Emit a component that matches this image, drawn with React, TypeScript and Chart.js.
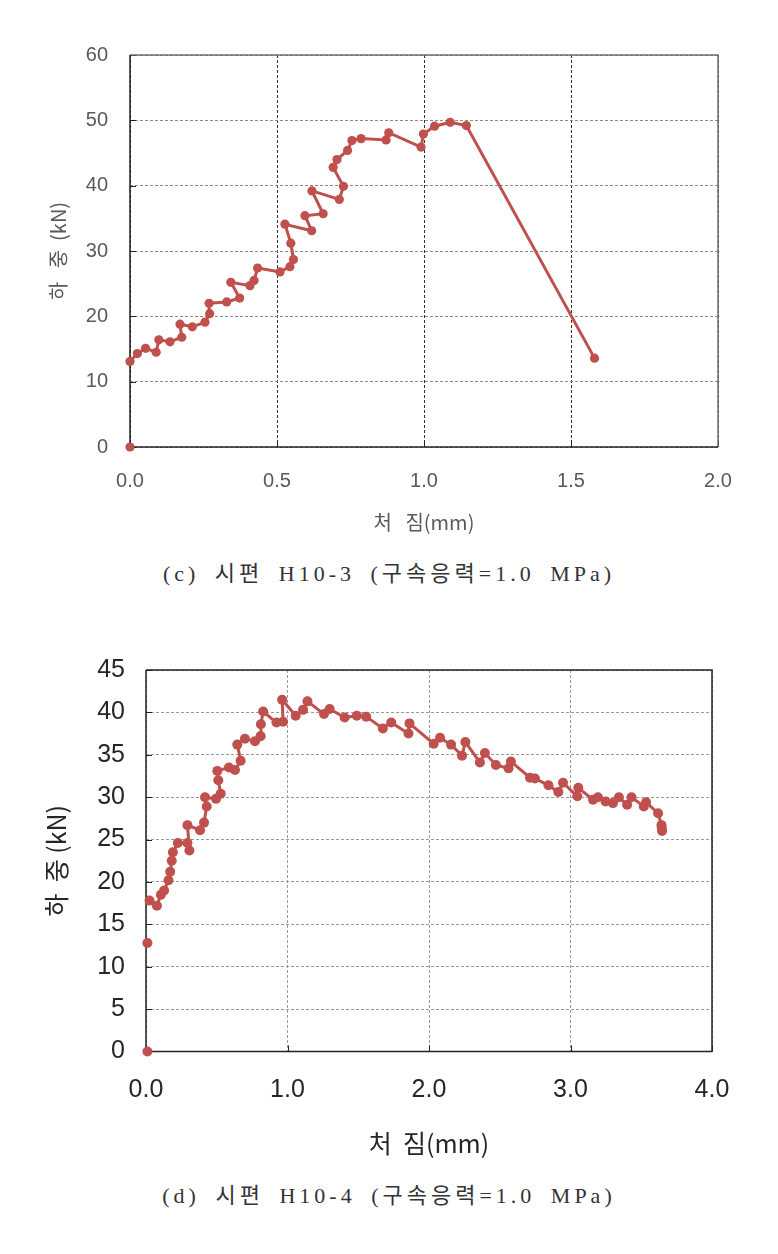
import React, { useEffect, useRef } from 'react';
import { Chart, registerables } from 'chart.js';

Chart.register(...registerables);

const RED = '#C0504D';

// ---------- (c) 시편 H10-3 ----------
const cStartX = [0];
const cStartY = [0];
const cX = [0.0, 0.025, 0.053, 0.089, 0.098, 0.136, 0.176, 0.170, 0.212, 0.255, 0.271, 0.269, 0.329, 0.373, 0.343, 0.408, 0.422, 0.434, 0.510, 0.544, 0.556, 0.547, 0.527, 0.618, 0.595, 0.657, 0.619, 0.712, 0.726, 0.691, 0.704, 0.740, 0.755, 0.786, 0.871, 0.880, 0.990, 0.998, 1.036, 1.089, 1.144, 1.58];
const cY = [13.1, 14.3, 15.1, 14.5, 16.4, 16.1, 16.8, 18.8, 18.4, 19.1, 20.4, 22.0, 22.2, 22.8, 25.2, 24.7, 25.5, 27.4, 26.8, 27.6, 28.7, 31.2, 34.1, 33.1, 35.4, 35.7, 39.2, 37.9, 39.9, 42.8, 44.0, 45.4, 46.9, 47.2, 47.0, 48.1, 45.9, 47.9, 49.1, 49.7, 49.2, 13.6];
const cXTicks = [0, 0.5, 1.0, 1.5, 2.0];
const cYTicks = [0, 10, 20, 30, 40, 50, 60];

// ---------- (d) 시편 H10-4 ----------
const dStartX = [0.01, 0.01];
const dStartY = [0, 12.8];
const dX = [0.025, 0.077, 0.105, 0.128, 0.159, 0.171, 0.182, 0.19, 0.225, 0.293, 0.307, 0.293, 0.382, 0.41, 0.429, 0.417, 0.495, 0.528, 0.511, 0.504, 0.586, 0.629, 0.669, 0.645, 0.699, 0.77, 0.81, 0.812, 0.828, 0.922, 0.969, 0.962, 1.058, 1.11, 1.141, 1.258, 1.298, 1.404, 1.49, 1.556, 1.674, 1.733, 1.855, 1.862, 2.033, 2.078, 2.156, 2.233, 2.257, 2.36, 2.395, 2.473, 2.562, 2.579, 2.714, 2.749, 2.844, 2.914, 2.947, 3.048, 3.055, 3.159, 3.194, 3.248, 3.3, 3.342, 3.4, 3.431, 3.518, 3.534, 3.619, 3.643, 3.645, 3.647];
const dY = [17.8, 17.2, 18.5, 19.0, 20.2, 21.2, 22.5, 23.5, 24.6, 24.6, 23.7, 26.7, 26.1, 27.0, 28.9, 30.0, 29.8, 30.4, 32.0, 33.1, 33.5, 33.2, 34.3, 36.2, 36.9, 36.6, 37.2, 38.6, 40.1, 38.8, 38.9, 41.5, 39.6, 40.3, 41.3, 39.8, 40.4, 39.4, 39.6, 39.5, 38.1, 38.8, 37.5, 38.7, 36.3, 37.0, 36.2, 34.9, 36.5, 34.1, 35.2, 33.8, 33.4, 34.2, 32.3, 32.2, 31.4, 30.6, 31.7, 30.1, 31.1, 29.7, 30.0, 29.5, 29.3, 30.0, 29.1, 30.0, 28.9, 29.4, 28.1, 26.7, 26.4, 26.0];
const dXTicks = [0, 1, 2, 3, 4];
const dYTicks = [0, 5, 10, 15, 20, 25, 30, 35, 40, 45];

const Y_TITLE_C = '하   중  (kN)';
const X_TITLE_C = '처   짐(mm)';
const Y_TITLE_D = '하  중 (kN)';
const X_TITLE_D = '처  짐(mm)';
const CAPTION_C = '(c) 시편 H10-3 (구속응력=1.0 MPa)';
const CAPTION_D = '(d) 시편 H10-4 (구속응력=1.0 MPa)';

const NUM_FONT = '"Liberation Sans Narrow", "Liberation Sans", Arial, sans-serif';
const KR_FONT = '"Noto Sans CJK KR", "Noto Sans", sans-serif';

type Cfg = {
  top: number;
  height: number;
  xs: number[];
  ys: number[];
  sx: number[];
  sy: number[];
  xTicks: number[];
  yTicks: number[];
  xTitle: string;
  yTitle: string;
  padTop: number;
  padRight: number;
  yWidth: number;
  xHeight: number;
  tickSize: number;
  titleSize: number;
  textColor: string;
  xTickPad: number;
  yTickPad: number;
  yTitlePad: number;
  xTitlePad: number;
  xGridColor: string;
  yGridColor: string;
  leftBottomColor: string;
  topRightColor: string;
  pointRadius: number;
  lineWidth: number;
};

function LoadChart({ cfg }: { cfg: Cfg }) {
  const ref = useRef<HTMLCanvasElement | null>(null);
  useEffect(() => {
    if (!ref.current) return;
    const frame = {
      id: 'frameTicks',
      beforeDatasetsDraw(chart: any) {
        const { ctx, chartArea: a, scales } = chart;
        ctx.save();
        ctx.setLineDash([]);
        ctx.lineWidth = 1;
        ctx.strokeStyle = cfg.leftBottomColor;
        scales.x.ticks.forEach((t: any) => {
          const px = Math.round(scales.x.getPixelForValue(t.value)) + 0.5;
          ctx.beginPath();
          ctx.moveTo(px, a.bottom);
          ctx.lineTo(px, a.bottom - 6);
          ctx.stroke();
        });
        scales.y.ticks.forEach((t: any) => {
          const py = Math.round(scales.y.getPixelForValue(t.value)) + 0.5;
          ctx.beginPath();
          ctx.moveTo(a.left, py);
          ctx.lineTo(a.left + 6, py);
          ctx.stroke();
        });
        ctx.lineWidth = 1.5;
        ctx.strokeStyle = cfg.topRightColor;
        ctx.beginPath();
        ctx.moveTo(a.left, a.top);
        ctx.lineTo(a.right, a.top);
        ctx.lineTo(a.right, a.bottom);
        ctx.stroke();
        ctx.strokeStyle = cfg.leftBottomColor;
        ctx.beginPath();
        ctx.moveTo(a.left, a.top);
        ctx.lineTo(a.left, a.bottom);
        ctx.lineTo(a.right, a.bottom);
        ctx.stroke();
        ctx.restore();
      },
    };
    const chart = new Chart(ref.current, {
      type: 'scatter',
      data: {
        datasets: [
          {
            data: cfg.xs.map((x, i) => ({ x, y: cfg.ys[i] })),
            showLine: true,
            borderColor: RED,
            backgroundColor: RED,
            borderWidth: cfg.lineWidth,
            pointRadius: cfg.pointRadius,
            pointBorderWidth: 0,
            pointBackgroundColor: RED,
            tension: 0,
            clip: false,
          } as any,
          {
            data: cfg.sx.map((x, i) => ({ x, y: cfg.sy[i] })),
            showLine: false,
            borderColor: RED,
            backgroundColor: RED,
            pointRadius: cfg.pointRadius,
            pointBorderWidth: 0,
            pointBackgroundColor: RED,
            clip: false,
          } as any,
        ],
      },
      options: {
        animation: false,
        responsive: false,
        devicePixelRatio: 1,
        events: [],
        layout: { padding: { top: cfg.padTop, right: cfg.padRight, bottom: 0, left: 0 } },
        plugins: { legend: { display: false }, tooltip: { enabled: false } },
        scales: {
          x: {
            type: 'linear',
            min: cfg.xTicks[0],
            max: cfg.xTicks[cfg.xTicks.length - 1],
            afterBuildTicks: (s: any) => {
              s.ticks = cfg.xTicks.map((v) => ({ value: v }));
            },
            afterFit: (s: any) => {
              s.height = cfg.xHeight;
            },
            ticks: {
              autoSkip: false,
              maxRotation: 0,
              padding: cfg.xTickPad,
              color: cfg.textColor,
              font: { family: NUM_FONT, size: cfg.tickSize },
              callback: (v: any) => Number(v).toFixed(1),
            },
            grid: { color: cfg.xGridColor, lineWidth: 1, drawTicks: false },
            border: { display: false, dash: [3, 2] },
            title: {
              display: true,
              text: cfg.xTitle,
              color: cfg.textColor,
              font: { family: KR_FONT, size: cfg.titleSize },
              padding: { top: 0, bottom: cfg.xTitlePad },
            },
          },
          y: {
            type: 'linear',
            min: cfg.yTicks[0],
            max: cfg.yTicks[cfg.yTicks.length - 1],
            afterBuildTicks: (s: any) => {
              s.ticks = cfg.yTicks.map((v) => ({ value: v }));
            },
            afterFit: (s: any) => {
              s.width = cfg.yWidth;
            },
            ticks: {
              autoSkip: false,
              padding: cfg.yTickPad,
              color: cfg.textColor,
              font: { family: NUM_FONT, size: cfg.tickSize },
              callback: (v: any) => String(v),
            },
            grid: { color: cfg.yGridColor, lineWidth: 1, drawTicks: false },
            border: { display: false, dash: [3, 2] },
            title: {
              display: true,
              text: cfg.yTitle,
              color: cfg.textColor,
              font: { family: KR_FONT, size: cfg.titleSize },
              padding: { top: cfg.yTitlePad, bottom: 0 },
            },
          },
        },
      } as any,
      plugins: [frame],
    });
    return () => chart.destroy();
  }, [cfg]);
  return (
    <canvas
      ref={ref}
      width={778}
      height={cfg.height}
      style={{ position: 'absolute', left: 0, top: cfg.top, width: 778, height: cfg.height }}
    />
  );
}

const cfgC: Cfg = {
  top: 0,
  height: 560,
  xs: cX,
  ys: cY,
  sx: cStartX,
  sy: cStartY,
  xTicks: cXTicks,
  yTicks: cYTicks,
  xTitle: X_TITLE_C,
  yTitle: Y_TITLE_C,
  padTop: 55,
  padRight: 60,
  yWidth: 130,
  xHeight: 113,
  tickSize: 20,
  titleSize: 20,
  textColor: '#595959',
  xTickPad: 22,
  yTickPad: 22,
  yTitlePad: 46,
  xTitlePad: 26,
  xGridColor: '#333333',
  yGridColor: '#8a8a8a',
  leftBottomColor: '#222222',
  topRightColor: '#707070',
  pointRadius: 4.6,
  lineWidth: 3,
};

const cfgD: Cfg = {
  top: 620,
  height: 560,
  xs: dX,
  ys: dY,
  sx: dStartX,
  sy: dStartY,
  xTicks: dXTicks,
  yTicks: dYTicks,
  xTitle: X_TITLE_D,
  yTitle: Y_TITLE_D,
  padTop: 50,
  padRight: 66,
  yWidth: 146,
  xHeight: 128.5,
  tickSize: 25,
  titleSize: 25,
  textColor: '#262626',
  xTickPad: 23.5,
  yTickPad: 21,
  yTitlePad: 41,
  xTitlePad: 22,
  xGridColor: '#9a9a9a',
  yGridColor: '#9a9a9a',
  leftBottomColor: '#222222',
  topRightColor: '#222222',
  pointRadius: 5,
  lineWidth: 3,
};

const captionStyle = (top: number): React.CSSProperties => ({
  position: 'absolute',
  left: 0,
  top,
  width: 778,
  textAlign: 'center',
  fontFamily: '"Liberation Serif", "Noto Sans CJK KR", serif',
  fontSize: 22,
  lineHeight: '28px',
  letterSpacing: '4px',
  wordSpacing: '6px',
  color: '#333333',
  whiteSpace: 'pre',
});

export default function App() {
  return (
    <div style={{ position: 'absolute', left: 0, top: 0, width: 778, height: 1254, background: '#ffffff' }}>
      <LoadChart cfg={cfgC} />
      <div style={captionStyle(560)}>{CAPTION_C}</div>
      <LoadChart cfg={cfgD} />
      <div style={captionStyle(1182)}>{CAPTION_D}</div>
    </div>
  );
}
